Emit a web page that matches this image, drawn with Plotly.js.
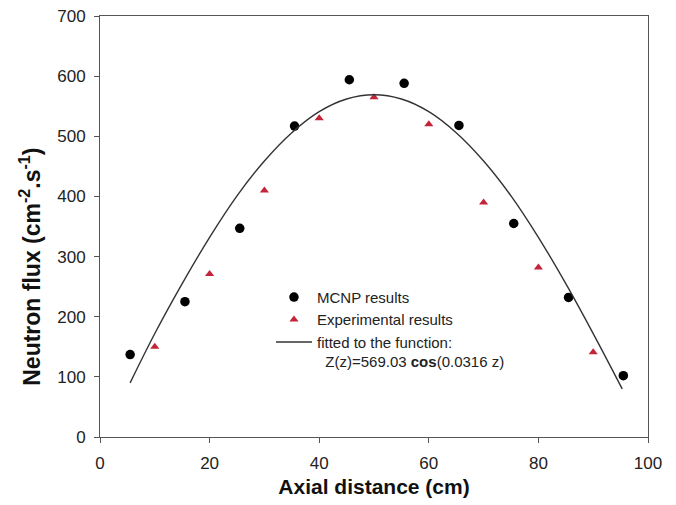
<!DOCTYPE html>
<html>
<head>
<meta charset="utf-8">
<script src="https://cdn.plot.ly/plotly-3.0.1.min.js"></script>
<style>html,body{margin:0;padding:0;background:#fff;}#chart{width:676px;height:505px;}</style>
</head>
<body>
<div id="chart"></div>
<script>
// MCNP results (black circles)
var mcnpX = [5.5, 15.5, 25.5, 35.5, 45.5, 55.5, 65.5, 75.5, 85.5, 95.5];
var mcnpY = [137, 225, 347, 517, 594, 588, 518, 355, 232, 102];
// Experimental results (red triangles)
var expX = [10, 20, 30, 40, 50, 60, 70, 80, 90];
var expY = [150, 271, 410, 530, 565, 520, 390, 282, 141];
// Fitted curve
var fitX = [5.5, 10, 15, 20, 25, 30, 35, 40, 45, 50, 55, 60, 65, 70, 75, 80, 85, 90, 95.3];
var fitY = [90, 172, 255, 332, 401, 459, 506, 541, 562, 569, 562, 541, 506, 459, 401, 332, 255, 172, 80];
var xTicks = [0, 20, 40, 60, 80, 100];
var yTicks = [0, 100, 200, 300, 400, 500, 600, 700];

var FONT = 'Liberation Sans, Arial, sans-serif';

var traces = [
  {x: mcnpX, y: mcnpY, type: 'scatter', mode: 'markers', name: 'MCNP results',
   marker: {symbol: 'circle', size: 9.5, color: '#000'}},
  {x: expX, y: expY, type: 'scatter', mode: 'markers', name: 'Experimental results',
   marker: {symbol: 'triangle-up', size: 8, color: '#c4243a'}},
  {x: fitX, y: fitY, type: 'scatter', mode: 'lines',
   name: 'fitted to the function:<br>&nbsp;&nbsp;Z(z)=569.03 <b>cos</b>(0.0316 z)',
   line: {color: '#333', width: 1.4, shape: 'spline'}}
];

var axisCommon = {
  showgrid: false, zeroline: false, showline: true, linecolor: '#555', linewidth: 1,
  mirror: true, ticks: 'outside', ticklen: 5, tickcolor: '#555', tickwidth: 1,
  tickfont: {family: FONT, size: 17, color: '#222'}
};

var layout = {
  width: 676, height: 505,
  margin: {l: 100, r: 28, t: 16, b: 68},
  paper_bgcolor: '#fff', plot_bgcolor: '#fff',
  showlegend: true,
  legend: {x: 0.312, y: 0.371, xanchor: 'left', yanchor: 'top', bgcolor: 'rgba(0,0,0,0)',
           itemwidth: 36, valign: 'top', tracegroupgap: 0,
           font: {family: FONT, size: 15, color: '#222'}},
  xaxis: Object.assign({}, axisCommon, {range: [0, 100], tickvals: xTicks, ticklabelstandoff: 6,
    title: {text: '<b>Axial distance (cm)</b>', standoff: 6,
            font: {family: FONT, size: 21, color: '#111'}}}),
  yaxis: Object.assign({}, axisCommon, {range: [0, 700], tickvals: yTicks, ticklabelstandoff: 5}),
  annotations: [{
    text: '<b>Neutron flux (cm<sup>-2</sup>.s<sup>-1</sup>)</b>',
    xref: 'paper', yref: 'paper', x: -0.128, y: 0.404, xanchor: 'center', yanchor: 'middle',
    textangle: -90, showarrow: false,
    font: {family: FONT, size: 23, color: '#111'}
  }]
};

Plotly.newPlot('chart', traces, layout, {displayModeBar: false, staticPlot: true});
</script>
</body>
</html>
